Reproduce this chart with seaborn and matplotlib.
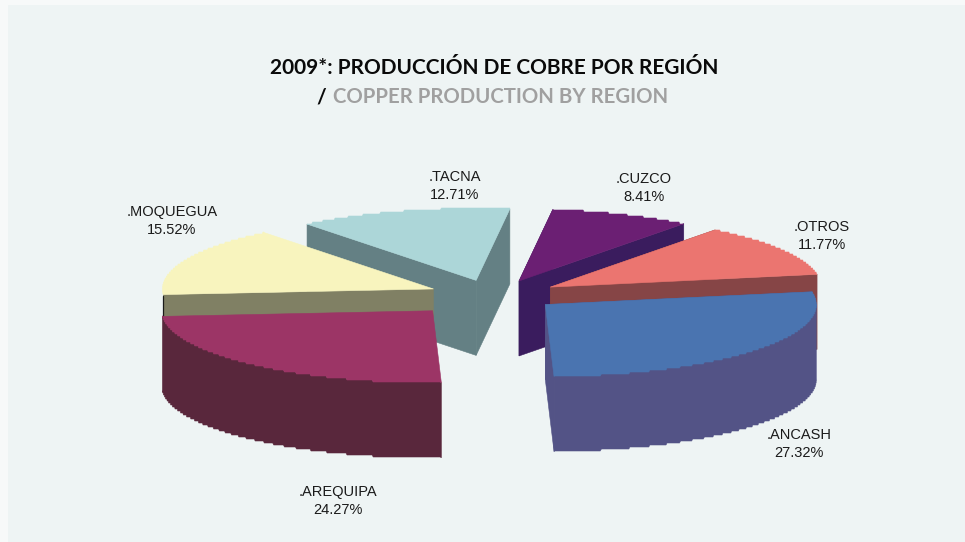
# 2009 copper production by region, drawn as an exploded 3D pie

import numpy as np
import matplotlib
matplotlib.use("Agg")
import matplotlib.pyplot as plt
import seaborn as sns

sns.set_theme(style="white")
plt.rcParams['font.family'] = ['Liberation Sans', 'DejaVu Sans']

# data, clockwise from the back of the pie
regions = ['.TACNA', '.CUZCO', '.OTROS', '.ANCASH', '.AREQUIPA', '.MOQUEGUA']
shares = [12.71, 8.41, 11.77, 27.32, 24.27, 15.52]

top_colors = sns.color_palette(['#ACD6D8', '#6B1F73', '#EB7570', '#4A74B0', '#9C3566', '#F8F4BE'])
wall_colors = sns.color_palette(['#648084', '#3A1C5E', '#864546', '#535386', '#59273C', '#808064'])

# geometry, in pixels of the figure
CX, CY = 494, 295
RX, RY = 271, 72
DEPTH = 75
START = -38.6
BUMP_TILT = 0.23
explode = [66, 66, 66, 66, 92, 66]
draw_order = [0, 1, 2, 5, 4, 3]
label_xy = [(455, 186), (644, 188), (822, 236), (799, 444), (338, 501), (172, 221)]
BG = '#EEF4F4'


def arc_points(a0, a1, x0, y0):
    """Outer edge of a slice, with the stair steps of a low resolution render."""
    t = np.radians(np.arange(a0, a1, 0.25))
    t = np.append(t, np.radians(a1))
    x = x0 + RX * np.sin(t)
    y = y0 - RY * np.cos(t)
    y[1:-1] = np.round(y[1:-1] / 2.0) * 2.0
    return x, y


def cut_face(ax, x0, y0, xe, ye, wall):
    ax.fill([x0, xe, xe, x0], [y0, ye, ye + DEPTH, y0 + DEPTH], color=wall, lw=0.4, zorder=2)


def draw_slice(ax, a0, a1, bump, top, wall):
    mid = np.radians((a0 + a1) / 2)
    x0 = CX + bump * np.sin(mid)
    y0 = CY - bump * BUMP_TILT * np.cos(mid)
    x, y = arc_points(a0, a1, x0, y0)

    # cut faces, only the ones that turn towards the viewer
    if np.cos(np.radians(a0)) > -0.05 or a0 > 260:
        cut_face(ax, x0, y0, x[0], y[0], wall)
    if a1 < 100 or 170 < a1 < 190:
        cut_face(ax, x0, y0, x[-1], y[-1], wall)

    # rim, the part of the arc on the near side (tiny bits stay hidden)
    near = np.cos(np.radians(np.linspace(a0, a1, len(x)))) < 0.02
    if near.sum() > 40:
        xr, yr = x[near], y[near]
        ax.fill(np.r_[xr, xr[::-1]], np.r_[yr, yr[::-1] + DEPTH], color=wall, lw=0.4, zorder=2)

    ax.fill(np.r_[x0, x], np.r_[y0, y], color=top, lw=0.4, zorder=2)
    return x[0], y[0]


fig = plt.figure(figsize=(9.65, 5.42), dpi=100, facecolor='#F7F9F9')
ax = fig.add_axes([0, 0, 1, 1])
ax.set_xlim(0, 965)
ax.set_ylim(542, 0)
ax.axis('off')
ax.add_patch(plt.Rectangle((8, 5), 957, 537, color=BG, lw=0, zorder=0))

edges = START + np.r_[0, np.cumsum(shares)] * 3.6
for i in draw_order:
    xs, ys = draw_slice(ax, edges[i], edges[i + 1], explode[i], top_colors[i], wall_colors[i])
    if regions[i] == '.MOQUEGUA':
        # thin dark seam left of the yellow slice's wall
        ax.plot([xs, xs], [ys + 1, ys + DEPTH / 3], color='#1A1A1A', lw=0.9, zorder=2)

for name, val, (lx, ly) in zip(regions, shares, label_xy):
    ax.text(lx, ly, f'{name}\n{val:.2f}%', ha='center', va='center', fontsize=10.5,
            color='#1A1A1A', linespacing=1.34, zorder=5)

ax.text(494, 74, '2009*: PRODUCCIÓN DE COBRE POR REGIÓN', ha='center', va='baseline',
        fontsize=15, fontweight='bold', family='Lato', color='#0A0A0A')
ax.text(321, 103, '/', ha='center', va='baseline', fontsize=15, fontweight='bold',
        family='Lato', color='#0A0A0A')
ax.text(500.5, 103, 'COPPER PRODUCTION BY REGION', ha='center', va='baseline',
        fontsize=14.7, fontweight='bold', family='Lato', color='#A0A0A0')

fig.savefig('out.png', dpi=100, facecolor=fig.get_facecolor())
